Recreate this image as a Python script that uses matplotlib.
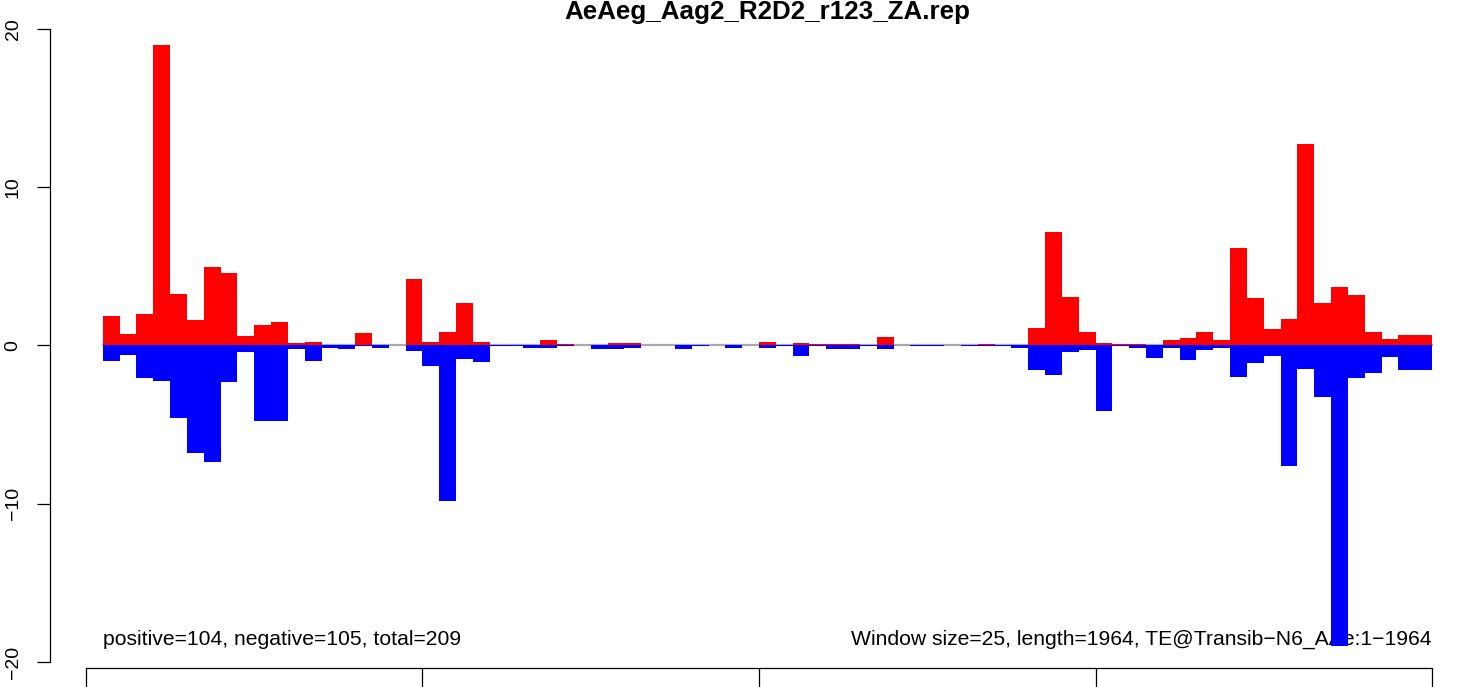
import matplotlib.pyplot as plt
import numpy as np

# Read counts per 25-nt window (sense = red, antisense = blue)
window = 25
n_bins = 79
bin_start = window * np.arange(1, n_bins + 1)

sense = [1.84, 0.70, 1.97, 18.96, 3.23, 1.59, 4.95, 4.57, 0.57, 1.27,
         1.46, 0.13, 0.19, 0.06, 0.06, 0.76, 0.06, 0.05, 4.23, 0.23,
         0.87, 2.71, 0.23, 0.04, 0.04, 0.0, 0.36, 0.10, 0.0, 0.04,
         0.17, 0.17, 0.04, 0.0, 0.04, 0.04, 0.0, 0.04, 0.0, 0.23,
         0.04, 0.17, 0.10, 0.10, 0.10, 0.04, 0.55, 0.04, 0.04, 0.04,
         0.0, 0.0, 0.10, 0.04, 0.04, 1.12, 7.15, 3.09, 0.87, 0.17,
         0.10, 0.10, 0.04, 0.36, 0.49, 0.87, 0.36, 6.19, 3.02, 1.06,
         1.69, 12.73, 2.71, 3.72, 3.21, 0.87, 0.42, 0.68, 0.68]

antisense = [1.01, 0.63, 2.03, 2.22, 4.57, 6.79, 7.36, 2.28, 0.38, 4.76,
             4.76, 0.25, 0.95, 0.13, 0.25, 0.06, 0.13, 0.0, 0.32, 1.29,
             9.83, 0.85, 1.04, 0.06, 0.06, 0.13, 0.13, 0.06, 0.0, 0.19,
             0.19, 0.13, 0.0, 0.0, 0.19, 0.06, 0.0, 0.13, 0.0, 0.13,
             0.06, 0.66, 0.06, 0.19, 0.19, 0.06, 0.19, 0.0, 0.06, 0.06,
             0.0, 0.06, 0.06, 0.06, 0.15, 1.54, 1.86, 0.40, 0.27, 4.14,
             0.06, 0.15, 0.78, 0.15, 0.91, 0.27, 0.15, 1.99, 1.10, 0.66,
             7.63, 1.48, 3.26, 19.0, 2.05, 1.73, 0.72, 1.54, 1.54]

x_ticks = [0, 500, 1000, 1500, 2000]
y_ticks = [-20, -10, 0, 10, 20]

title = "AeAeg_Aag2_R2D2_r123_ZA.rep"
left_note = "positive=104, negative=105, total=209"
right_note = "Window size=25, length=1964, TE@Transib\u2212N6_AAe:1\u22121964"

plt.rcParams['font.family'] = ['Liberation Sans', 'DejaVu Sans']

W, H = 1460, 687
fig = plt.figure(figsize=(W / 100, H / 100), dpi=100)

# axes box in pixels: left spine at x=50, bottom spine at y=668
ax_l, ax_r, ax_b, ax_t = 50, 1440, 668, 10
ax = fig.add_axes([ax_l / W, 1 - ax_b / H, (ax_r - ax_l) / W, (ax_b - ax_t) / H])

px_x = 1346 / 2000.0   # pixels per data unit (x)
px_y = 15.83           # pixels per data unit (y)
ax.set_xlim(0 - (86 - ax_l) / px_x, 2000 + (ax_r - 1432) / px_x)
ax.set_ylim(-20 - (ax_b - 662) / px_y, 20 + (29 - ax_t) / px_y)

# zero line underneath the bars
ax.plot([bin_start[0], bin_start[-1] + window], [0, 0], color='#a9a9a9', lw=1.6, zorder=1)

ax.bar(bin_start, sense, width=window, align='edge', color='red', linewidth=0, zorder=2)
ax.bar(bin_start, -np.array(antisense), width=window, align='edge', color='blue', linewidth=0, zorder=2)

ax.text(bin_start[0], -18.9, left_note, fontsize=15.2, ha='left', va='baseline')
ax.text(2000, -18.9, right_note, fontsize=15.2, ha='right', va='baseline', zorder=1)

for s in ['top', 'right']:
    ax.spines[s].set_visible(False)
ax.spines['left'].set_bounds(-20, 20)
ax.spines['bottom'].set_bounds(0, 2000)
for s in ['left', 'bottom']:
    ax.spines[s].set_linewidth(0.9)

ax.set_yticks(y_ticks)
ax.set_xticks(x_ticks)
ax.set_xticklabels([])
ax.tick_params(axis='y', length=9.4, width=0.9, labelsize=14, pad=11, labelrotation=90)
ax.tick_params(axis='x', length=15, width=0.9)
for lab in ax.get_yticklabels():
    lab.set_va('center')

fig.text(767 / W, 1 - 19 / H, title, fontsize=18.7, fontweight='bold', ha='center', va='baseline')

fig.savefig('out.png', dpi=100)
